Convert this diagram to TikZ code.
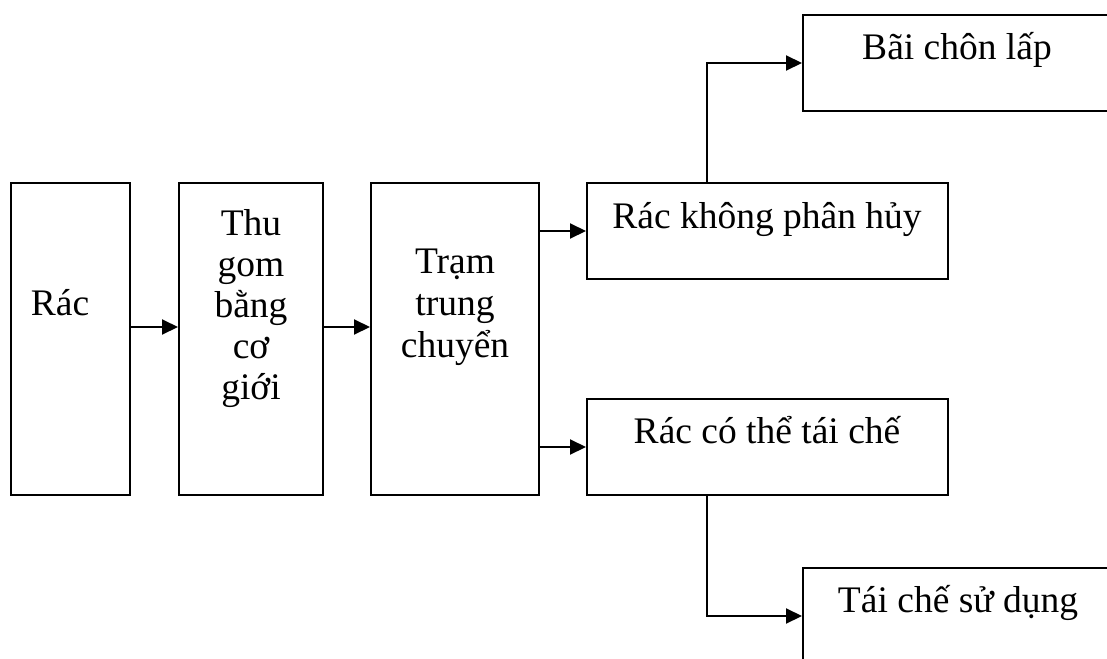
\documentclass[tikz,border=0pt]{standalone}
\usepackage{fontspec}
\setmainfont{Liberation Serif}
\usetikzlibrary{arrows.meta}
\begin{document}
\begin{tikzpicture}[x=1pt,y=-1pt,
  box/.style={draw,line width=2pt,inner sep=0pt,rectangle},
  lbl/.style={anchor=base,inner sep=0pt,font=\fontsize{37.5}{41}\selectfont},
  arr/.style={line width=2pt,-{Triangle[length=16pt,width=15pt]}}]
\useasboundingbox (0,0) rectangle (1107,658);
% boxes
\node[box,minimum width=119pt,minimum height=312pt] (rac) at (70.5,339) {};
\node[box,minimum width=144pt,minimum height=312pt] (thugom) at (251,339) {};
\node[box,minimum width=168pt,minimum height=312pt] (tram) at (455,339) {};
\node[box,minimum width=361pt,minimum height=96pt] (rkph) at (767.5,231) {};
\node[box,minimum width=361pt,minimum height=96pt] (rctc) at (767.5,447) {};
\node[box,minimum width=309pt,minimum height=96pt] (bai) at (957.5,63) {};
\node[box,minimum width=309pt,minimum height=96pt] (tcsd) at (957.5,616) {};
% texts
\node[lbl] (t1) at (60,315) {Rác};
\node[lbl] (t2a) at (251,235) {Thu};
\node[lbl] (t2b) at (251,276) {gom};
\node[lbl] (t2c) at (251,317) {bằng};
\node[lbl] (t2d) at (251,358) {cơ};
\node[lbl] (t2e) at (251,399) {giới};
\node[lbl] (t3a) at (455,273) {Trạm};
\node[lbl] (t3b) at (455,315) {trung};
\node[lbl] (t3c) at (455,357) {chuyển};
\node[lbl] (t4) at (767,228) {Rác không phân hủy};
\node[lbl] (t5) at (767,443) {Rác có thể tái chế};
\node[lbl] (t6) at (957,60) {Bãi chôn lấp};
\node[lbl] (t7) at (958,612) {Tái chế sử dụng};
% connectors
\draw[arr] (rac.east |- 0,327) -- (thugom.west |- 0,327);
\draw[arr] (thugom.east |- 0,327) -- (tram.west |- 0,327);
\draw[arr] (tram.east |- rkph.west) -- (rkph.west);
\draw[arr] (tram.east |- rctc.west) -- (rctc.west);
\draw[arr] (rkph.north -| 707,0) |- (bai.west);
\draw[arr] (rctc.south -| 707,0) |- (tcsd.west);
\end{tikzpicture}
\end{document}
